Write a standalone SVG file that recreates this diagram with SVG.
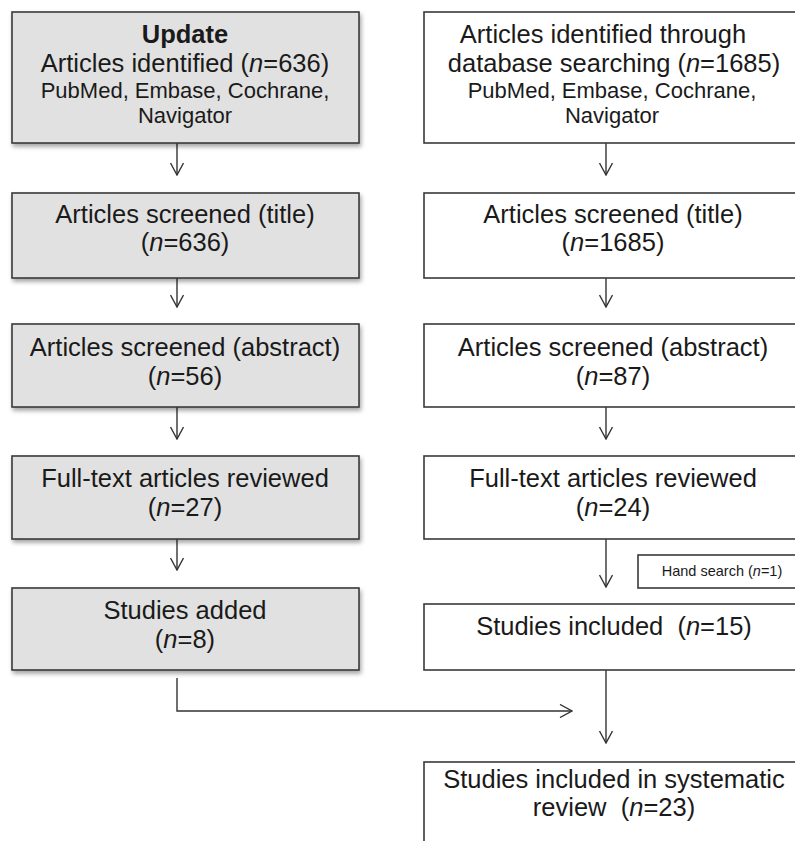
<svg xmlns="http://www.w3.org/2000/svg" width="795" height="841" viewBox="0 0 795 841">
<defs>
<filter id="sh" x="-5%" y="-10%" width="115%" height="130%">
<feDropShadow dx="1.5" dy="3" stdDeviation="2" flood-color="#000" flood-opacity="0.35"/>
</filter>
<marker id="ah" viewBox="0 0 14 14" refX="13" refY="7" markerWidth="14" markerHeight="14" markerUnits="userSpaceOnUse" orient="auto">
<path d="M1,0.5 L13,7 L1,13.5" fill="none" stroke="#333" stroke-width="1.4"/>
</marker>
<style>
.g{fill:#e1e1e1;stroke:#3a3a3a;stroke-width:1.6;filter:url(#sh)}
.w{fill:#fff;stroke:#3a3a3a;stroke-width:1.6}
.t{font-family:"Liberation Sans",Arial,sans-serif;font-size:25.5px;fill:#1a1a1a;text-anchor:middle}
.s{font-size:22px}
.h{font-size:14.5px}
.c{fill:none;stroke:#333;stroke-width:1.4}
</style>
</defs>
<rect width="795" height="841" fill="#fff"/>
<g id="connectors">
<path class="c" d="M177,143 V175" marker-end="url(#ah)"/>
<path class="c" d="M177,278 V307" marker-end="url(#ah)"/>
<path class="c" d="M177,407 V439" marker-end="url(#ah)"/>
<path class="c" d="M177,539 V570" marker-end="url(#ah)"/>
<path class="c" d="M177,678 V711 H572" marker-end="url(#ah)"/>
<path class="c" d="M606,143 V175" marker-end="url(#ah)"/>
<path class="c" d="M606,278 V307" marker-end="url(#ah)"/>
<path class="c" d="M606,407 V439" marker-end="url(#ah)"/>
<path class="c" d="M606,539 V587" marker-end="url(#ah)"/>
<path class="c" d="M606,670 V743" marker-end="url(#ah)"/>
</g>
<g id="u1"><rect class="g" x="12" y="12" width="347" height="131"/>
<text class="t" x="185" y="43" font-weight="bold">Update</text>
<text class="t" x="185" y="72">Articles identified (<tspan font-style="italic">n</tspan>=636)</text>
<text class="t s" x="185" y="98">PubMed, Embase, Cochrane,</text>
<text class="t s" x="185" y="123">Navigator</text></g>
<g id="u2"><rect class="g" x="12" y="193" width="347" height="85"/>
<text class="t" x="185" y="223">Articles screened (title)</text>
<text class="t" x="185" y="251">(<tspan font-style="italic">n</tspan>=636)</text></g>
<g id="u3"><rect class="g" x="12" y="324" width="347" height="83"/>
<text class="t" x="185" y="356">Articles screened (abstract)</text>
<text class="t" x="185" y="385">(<tspan font-style="italic">n</tspan>=56)</text></g>
<g id="u4"><rect class="g" x="12" y="456" width="347" height="83"/>
<text class="t" x="185" y="487">Full-text articles reviewed</text>
<text class="t" x="185" y="516">(<tspan font-style="italic">n</tspan>=27)</text></g>
<g id="u5"><rect class="g" x="12" y="588" width="347" height="82"/>
<text class="t" x="185" y="619">Studies added</text>
<text class="t" x="185" y="648">(<tspan font-style="italic">n</tspan>=8)</text></g>
<g id="o1"><rect class="w" x="424" y="12" width="380" height="131"/>
<text class="t" x="603" y="43">Articles identified through</text>
<text class="t" x="614" y="72">database searching (<tspan font-style="italic">n</tspan>=1685)</text>
<text class="t s" x="612" y="98">PubMed, Embase, Cochrane,</text>
<text class="t s" x="612" y="123">Navigator</text></g>
<g id="o2"><rect class="w" x="424" y="193" width="380" height="85"/>
<text class="t" x="613" y="223">Articles screened (title)</text>
<text class="t" x="613" y="251">(<tspan font-style="italic">n</tspan>=1685)</text></g>
<g id="o3"><rect class="w" x="424" y="324" width="380" height="83"/>
<text class="t" x="613" y="356">Articles screened (abstract)</text>
<text class="t" x="613" y="385">(<tspan font-style="italic">n</tspan>=87)</text></g>
<g id="o4"><rect class="w" x="424" y="456" width="380" height="83"/>
<text class="t" x="613" y="487">Full-text articles reviewed</text>
<text class="t" x="613" y="516">(<tspan font-style="italic">n</tspan>=24)</text></g>
<g id="hand"><rect class="w" x="638" y="555" width="170" height="33" stroke-width="1.2"/>
<text class="t h" x="722" y="576">Hand search (<tspan font-style="italic">n</tspan>=1)</text></g>
<g id="o5"><rect class="w" x="424" y="604" width="380" height="66"/>
<text class="t" x="614" y="635">Studies included &#160;(<tspan font-style="italic">n</tspan>=15)</text></g>
<g id="o6"><rect class="w" x="424" y="762" width="380" height="100"/>
<text class="t" x="614" y="788">Studies included in systematic</text>
<text class="t" x="614" y="816">review &#160;(<tspan font-style="italic">n</tspan>=23)</text></g>
</svg>
